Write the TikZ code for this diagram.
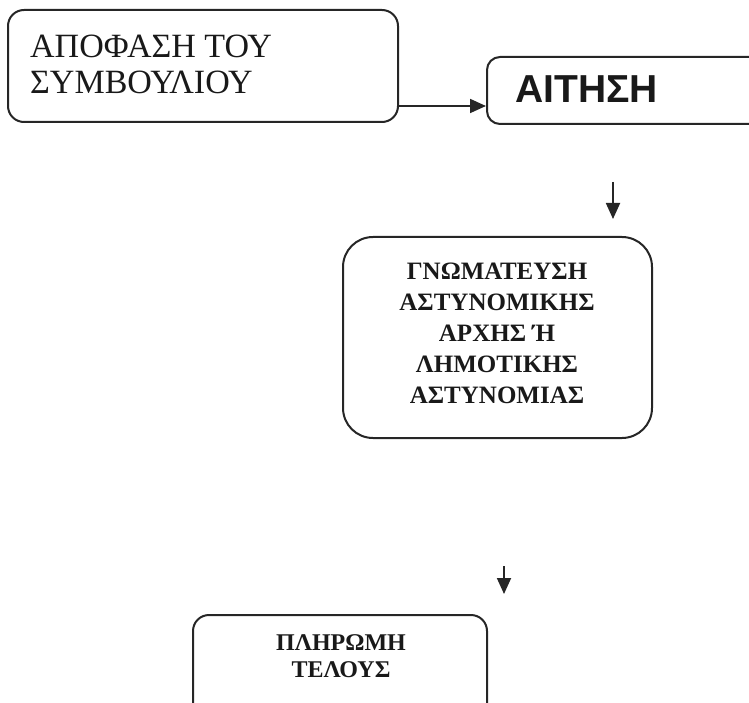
\documentclass[tikz,border=0pt]{standalone}
\usepackage{fontspec}
\setmainfont{Liberation Serif}
\newfontfamily\boxsans{Liberation Sans}
\usetikzlibrary{arrows.meta}
\tikzset{
  box/.style={draw=black!85, line width=2pt, rounded corners=#1, inner sep=0pt},
  lbl/.style={inner sep=0pt, text=black!90},
  arr/.style={draw=black!85, line width=1.8pt, -{Triangle[length=16pt,width=14pt]}}
}
\begin{document}
\begin{tikzpicture}[x=1pt,y=-1pt]
\useasboundingbox (0,0) rectangle (749,703);
\begin{scope}
\clip (0,0) rectangle (749,703);
% boxes
\node[box=16pt, minimum width=390pt, minimum height=112pt] (apofasi) at (203,66) {};
\node[box=13pt, minimum width=320pt, minimum height=67pt] (aitisi) at (647,90.5) {};
\node[box=30pt, minimum width=309pt, minimum height=201pt] (gnom) at (497.5,337.5) {};
\node[box=16pt, minimum width=294pt, minimum height=110pt] (pliromi) at (340,670) {};
\end{scope}
% texts
\node[lbl, anchor=west, align=left, font=\fontsize{34}{36}\selectfont] (tapofasi) at (30,64) {ΑΠΟΦΑΣΗ ΤΟΥ\\ΣΥΜΒΟΥΛΙΟΥ};
\node[lbl, anchor=west, font=\boxsans\bfseries\fontsize{39}{40}\selectfont] (taitisi) at (515,89) {ΑΙΤΗΣΗ};
\node[lbl, align=center, font=\bfseries\fontsize{25}{31}\selectfont] (tgnom) at (497,333) {ΓΝΩΜΑΤΕΥΣΗ\\ΑΣΤΥΝΟΜΙΚΗΣ\\ΑΡΧΗΣ Ή\\ΛΗΜΟΤΙΚΗΣ\\ΑΣΤΥΝΟΜΙΑΣ};
\node[lbl, align=center, font=\bfseries\fontsize{24}{27}\selectfont] (tpliromi) at (341,656) {ΠΛΗΡΩΜΗ\\ΤΕΛΟΥΣ};
% connectors
\coordinate (a2s) at (613,182);
\coordinate (a2e) at (613,219);
\coordinate (a3s) at (504,566);
\coordinate (a3e) at (504,594);
\draw[arr] (apofasi.east |- 0,106) -- (aitisi.west |- 0,106);
\draw[arr] (a2s) -- (a2e);
\draw[arr] (a3s) -- (a3e);
\end{tikzpicture}
\end{document}
